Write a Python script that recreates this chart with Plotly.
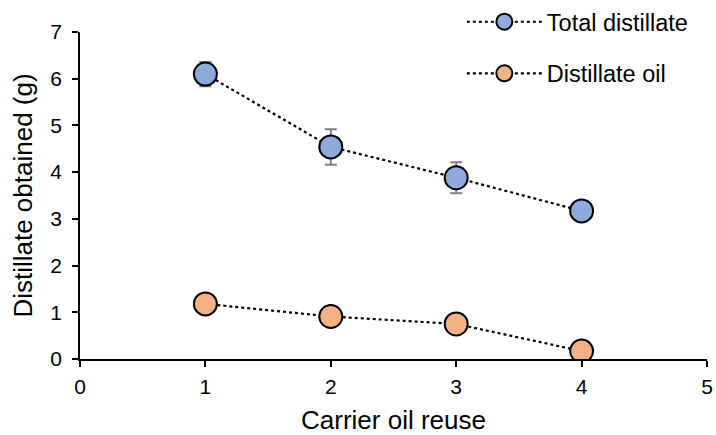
import plotly.graph_objects as go

# Carrier oil reuse cycles and distillate yields (g)
reuse = [1, 2, 3, 4]
total_distillate = [6.10, 4.54, 3.88, 3.17]
total_err = [0.26, 0.38, 0.33, 0.12]
distillate_oil = [1.18, 0.91, 0.75, 0.17]
oil_err = [0.05, 0.05, 0.05, 0.05]

x_ticks = [0, 1, 2, 3, 4, 5]
y_ticks = [0, 1, 2, 3, 4, 5, 6, 7]

FONT = "Liberation Sans, Arial, sans-serif"

fig = go.Figure()

fig.add_trace(go.Scatter(
    x=reuse, y=total_distillate, name="Total distillate",
    mode="lines+markers",
    line=dict(color="black", width=2.2, dash="dot"),
    marker=dict(size=23, color="#8EA9DB", line=dict(color="black", width=2)),
    error_y=dict(type="data", array=total_err, visible=True,
                 color="#7F7F7F", thickness=2, width=6),
    legendgroup="a",
))

fig.add_trace(go.Scatter(
    x=reuse, y=distillate_oil, name="Distillate oil",
    mode="lines+markers",
    line=dict(color="black", width=2.2, dash="dot"),
    marker=dict(size=23, color="#F4B183", line=dict(color="black", width=2)),
    error_y=dict(type="data", array=oil_err, visible=True,
                 color="#7F7F7F", thickness=2, width=6),
    legendgroup="b",
))

axis_common = dict(
    showgrid=False, zeroline=False, automargin=False,
    showline=True, linecolor="black", linewidth=1.5,
    ticks="outside", ticklen=6, tickwidth=1.5, tickcolor="black",
    tickfont=dict(family=FONT, size=21, color="black"),
)

fig.update_xaxes(
    range=[0, 5], tickvals=x_ticks, ticklabelstandoff=2,
    title=dict(text="Carrier oil reuse", font=dict(family=FONT, size=26, color="black"),
               standoff=19),
    **axis_common,
)
fig.update_yaxes(
    range=[0, 7], tickvals=y_ticks, ticklabelstandoff=6,
    title=dict(text="Distillate obtained (g)", font=dict(family=FONT, size=26, color="black"),
               standoff=10),
    **axis_common,
)

fig.update_layout(
    width=716, height=435,
    margin=dict(l=80, r=9, t=32, b=76, autoexpand=False),
    plot_bgcolor="white", paper_bgcolor="white",
    font=dict(family=FONT, color="black"),
    legend=dict(
        x=0.609, y=1.098, xanchor="left", yanchor="top",
        font=dict(family=FONT, size=23.5, color="black"),
        bgcolor="rgba(0,0,0,0)",
        tracegroupgap=18, itemwidth=75,
    ),
)

fig.write_html("out.html")
